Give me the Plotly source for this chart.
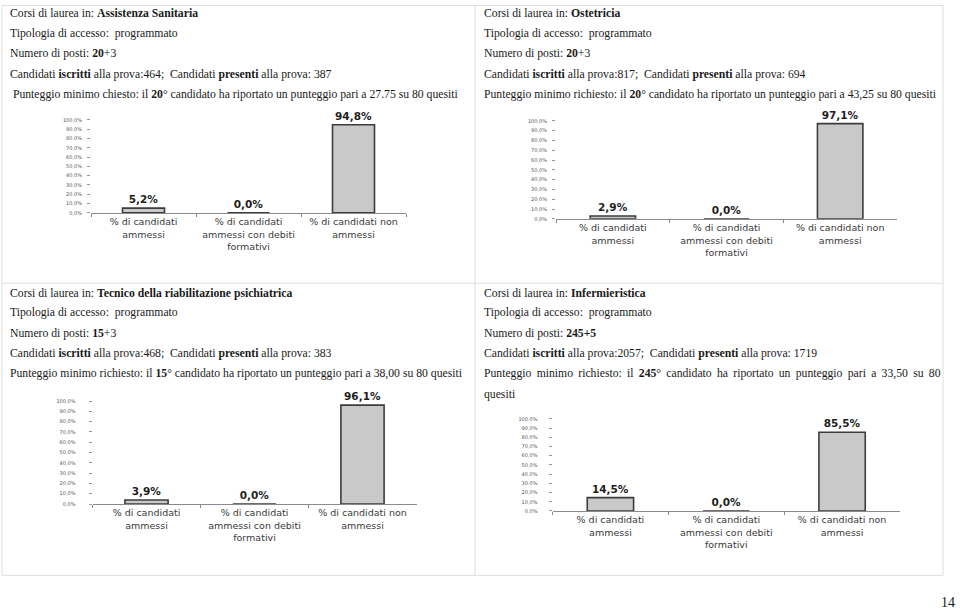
import plotly.graph_objects as go

W, H = 960, 612

# ---------------- data ----------------
categories = [
    "% di candidati<br>ammessi",
    "% di candidati<br>ammessi con debiti<br>formativi",
    "% di candidati non<br>ammessi",
]
pct_assistenza = [5.2, 0.0, 94.8]
pct_ostetricia = [2.9, 0.0, 97.1]
pct_tecnico = [3.9, 0.0, 96.1]
pct_infermieristica = [14.5, 0.0, 85.5]

y_tick_vals = [0, 10, 20, 30, 40, 50, 60, 70, 80, 90, 100]
y_tick_text = ["0,0%", "10,0%", "20,0%", "30,0%", "40,0%", "50,0%",
               "60,0%", "70,0%", "80,0%", "90,0%", "100,0%"]

panel_texts = {
    "tl": [
        "Corsi di laurea in: <b>Assistenza Sanitaria</b>",
        "Tipologia di accesso:  programmato",
        "Numero di posti: <b>20</b>+3",
        "Candidati <b>iscritti</b> alla prova:464;  Candidati <b>presenti</b> alla prova: 387",
        " Punteggio minimo chiesto: il <b>20</b>° candidato ha riportato un punteggio pari a 27.75 su 80 quesiti",
    ],
    "tr": [
        "Corsi di laurea in: <b>Ostetricia</b>",
        "Tipologia di accesso:  programmato",
        "Numero di posti: <b>20</b>+3",
        "Candidati <b>iscritti</b> alla prova:817;  Candidati <b>presenti</b> alla prova: 694",
        "Punteggio minimo richiesto: il <b>20</b>° candidato ha riportato un punteggio pari a 43,25 su 80 quesiti",
    ],
    "bl": [
        "Corsi di laurea in: <b>Tecnico della riabilitazione psichiatrica</b>",
        "Tipologia di accesso:  programmato",
        "Numero di posti: <b>15</b>+3",
        "Candidati <b>iscritti</b> alla prova:468;  Candidati <b>presenti</b> alla prova: 383",
        "Punteggio minimo richiesto: il <b>15</b>° candidato ha riportato un punteggio pari a 38,00 su 80 quesiti",
    ],
    "br": [
        "Corsi di laurea in: <b>Infermieristica</b>",
        "Tipologia di accesso:  programmato",
        "Numero di posti: <b>245+5</b>",
        "Candidati <b>iscritti</b> alla prova:2057;  Candidati <b>presenti</b> alla prova: 1719",
        " \u2009".join("Punteggio minimo richiesto: il <b>245</b>° candidato ha riportato un punteggio pari a 33,50 su 80".split(" ")),
        "quesiti",
    ],
}
page_number = "14"


def fmt(v):
    return f"{v:.1f}".replace(".", ",") + "%"


def px_x(px):
    return px / W


def px_y(py):
    return 1 - py / H


# chart geometry (pixels): x0, x1, y at 100%, y at 0%, label standoff
charts = [
    (pct_assistenza, (91, 406), (118, 212), 4),
    (pct_ostetricia, (556, 897), (119, 218), 4),
    (pct_tecnico, (92.5, 416.5), (402, 506), 12),
    (pct_infermieristica, (552.5, 900), (420, 513), 10),
]

fig = go.Figure()
layout_axes = {}
for i, (vals, (x0, x1), (ytop, ybot), standoff) in enumerate(charts, start=1):
    xa = "x" if i == 1 else f"x{i}"
    ya = "y" if i == 1 else f"y{i}"
    fig.add_trace(go.Bar(
        x=categories, y=vals, xaxis=xa, yaxis=ya,
        width=0.4,
        marker=dict(color="#c9c9c9", line=dict(color="#3c3c3c", width=1.6)),
        text=[fmt(v) for v in vals],
        textposition="outside",
        textfont=dict(family="DejaVu Sans", size=10.5, weight="bold", color="#1e1e1e"),
        constraintext="none",
        cliponaxis=False,
        showlegend=False,
        hoverinfo="skip",
    ))
    xk = "xaxis" if i == 1 else f"xaxis{i}"
    yk = "yaxis" if i == 1 else f"yaxis{i}"
    layout_axes[xk] = dict(
        domain=[px_x(x0), px_x(x1)], anchor=ya, type="category",
        showline=True, linecolor="#8a8a8a", linewidth=1,
        ticks="outside", tickson="boundaries", ticklen=3, tickcolor="#8a8a8a",
        tickfont=dict(family="DejaVu Sans", size=9.5, color="#3a3a3a"),
        showgrid=False, zeroline=False, fixedrange=True,
    )
    layout_axes[yk] = dict(
        domain=[px_y(ybot), px_y(ytop)], anchor=xa, range=[0, 100],
        tickvals=y_tick_vals, ticktext=y_tick_text,
        ticks="outside", ticklen=3, tickcolor="#9a9a9a",
        ticklabelstandoff=standoff,
        tickfont=dict(family="DejaVu Sans", size=5, color="#555555"),
        showgrid=False, zeroline=False, showline=False, fixedrange=True,
    )

annotations = []
line_y = {
    "tl": [10.5, 31, 51.5, 72, 92],
    "tr": [10.5, 31, 51.5, 72, 92],
    "bl": [293, 313, 333.5, 354, 374],
    "br": [293, 313, 333.5, 354, 374, 395],
}
line_x = {"tl": 8, "tr": 482, "bl": 8, "br": 482}
for key, lines in panel_texts.items():
    for txt, yy in zip(lines, line_y[key]):
        annotations.append(dict(
            text=txt, xref="paper", yref="paper",
            x=px_x(line_x[key]), y=px_y(yy), xanchor="left", yanchor="middle",
            showarrow=False,
            font=dict(family="Liberation Serif", size=11.7, color="#1a1a1a"),
        ))
annotations.append(dict(
    text=page_number, xref="paper", yref="paper", x=px_x(957), y=px_y(605),
    xanchor="right", yanchor="middle", showarrow=False,
    font=dict(family="Liberation Serif", size=14, color="#1a1a1a"),
))

border = dict(color="#dedede", width=1)
shapes = [
    dict(type="line", xref="paper", yref="paper", x0=px_x(2), x1=px_x(943), y0=px_y(2.5), y1=px_y(2.5), line=border),
    dict(type="line", xref="paper", yref="paper", x0=px_x(2), x1=px_x(943), y0=px_y(283), y1=px_y(283), line=border),
    dict(type="line", xref="paper", yref="paper", x0=px_x(2), x1=px_x(943), y0=px_y(578), y1=px_y(578), line=border),
    dict(type="line", xref="paper", yref="paper", x0=px_x(475), x1=px_x(475), y0=px_y(2.5), y1=px_y(578), line=border),
    dict(type="line", xref="paper", yref="paper", x0=px_x(943), x1=px_x(943), y0=px_y(2.5), y1=px_y(578), line=border),
    dict(type="line", xref="paper", yref="paper", x0=px_x(2), x1=px_x(2), y0=px_y(2.5), y1=px_y(578), line=border),
]

fig.update_layout(
    width=W, height=H,
    margin=dict(l=0, r=0, t=0, b=0),
    paper_bgcolor="white", plot_bgcolor="white",
    annotations=annotations, shapes=shapes,
    bargap=0.6,
    **layout_axes,
)

fig.write_html("out.html", config={"displayModeBar": False})
